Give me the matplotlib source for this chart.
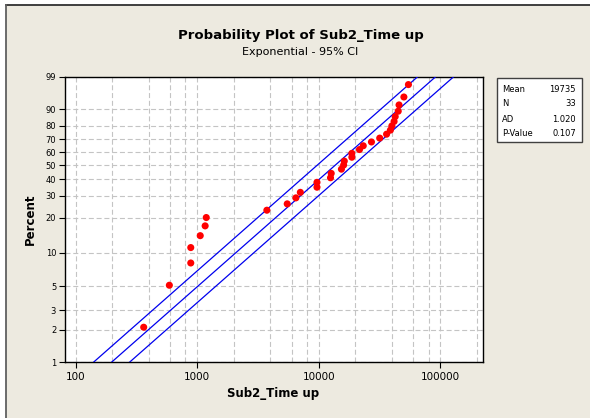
import numpy as np
import matplotlib
matplotlib.use("Agg")
import matplotlib.pyplot as plt
from matplotlib.patches import Rectangle
from matplotlib.lines import Line2D
from matplotlib.ticker import FixedLocator, NullFormatter

# ---- data ----
time_up = [363, 590, 885, 885, 1059, 1162, 1187, 3740, 5500, 6480, 7050,
           9660, 9660, 12480, 12650, 15350, 16000, 16200, 18700, 18700,
           21600, 23200, 27100, 31700, 36100, 38800, 39900, 41600, 42500,
           45000, 45700, 50100, 54600]
percent = [2.1, 5.1, 8.1, 11.1, 14.1, 17.1, 20.1, 23.1, 26.0, 29.0, 32.0,
           35.0, 38.0, 41.0, 44.0, 47.0, 50.0, 53.0, 56.0, 59.0, 62.0, 65.0,
           68.0, 71.0, 74.0, 77.0, 80.0, 83.0, 86.0, 89.0, 92.0, 95.0, 98.0]
MEAN = 19735
N = 33
AD = 1.020
PVALUE = 0.107

y_ticks = [1, 2, 3, 5, 10, 20, 30, 40, 50, 60, 70, 80, 90, 99]
x_ticks = [100, 1000, 10000, 100000]
x_tick_labels = ["100", "1000", "10000", "100000"]

BG = "#EDEAE0"


def fwd(p):
    p = np.clip(np.asarray(p, dtype=float), 1e-6, 100 - 1e-6)
    return np.log10(-np.log(1 - p / 100.0))


def inv(y):
    return 100.0 * (1 - np.exp(-10.0 ** np.asarray(y, dtype=float)))


fig = plt.figure(figsize=(5.9, 4.18), dpi=100, facecolor="white")
fig.patches.append(Rectangle((6 / 590, 0), 1, 1 - 5 / 418, transform=fig.transFigure,
                             facecolor=BG, edgecolor="none", zorder=-10))
fig.add_artist(Line2D([6 / 590, 1], [1 - 4.5 / 418] * 2, color="#303030", lw=1.3))
fig.add_artist(Line2D([6 / 590] * 2, [0, 1 - 4.5 / 418], color="#606060", lw=1.3))

ax = fig.add_axes([64.5 / 590, 1 - 362 / 418, (482.5 - 64.5) / 590, (362 - 77) / 418])
ax.set_facecolor("white")
ax.set_xscale("log")
ax.set_yscale("function", functions=(fwd, inv))
ax.set_xlim(81, 222000)
ax.set_ylim(1, 99)

# fitted exponential line + 95% CI
p_line = inv(np.linspace(fwd(0.5), fwd(99.6), 200))
q = -np.log(1 - p_line / 100.0)
ci = np.exp(1.96 / np.sqrt(N))
for factor in (1 / ci, 1.0, ci):
    ax.plot(MEAN * q * factor, p_line, color="#0000EE", lw=0.9, zorder=3)

ax.scatter(time_up, percent, s=26, color="#FF0000", edgecolors="none", zorder=4)

ax.xaxis.set_major_locator(FixedLocator(x_ticks))
ax.set_xticklabels(x_tick_labels)
minor = [m * 10 ** d for d in range(2, 6) for m in (2, 4, 6, 8)]
ax.xaxis.set_minor_locator(FixedLocator(minor))
ax.xaxis.set_minor_formatter(NullFormatter())
ax.yaxis.set_major_locator(FixedLocator(y_ticks))
ax.set_yticklabels([str(v) for v in y_ticks])
ax.yaxis.set_minor_locator(FixedLocator([]))

ax.tick_params(axis="x", which="major", length=4, width=0.8, labelsize=7.5, pad=3)
ax.tick_params(axis="x", which="minor", length=0)
ax.tick_params(axis="y", which="major", length=4, width=0.8, labelsize=6, pad=2)
ax.grid(True, which="both", color="#C4C4C4", ls=(0, (4.5, 2.5)), lw=0.8)
for sp in ax.spines.values():
    sp.set_color("black")
    sp.set_linewidth(1.0)

ax.set_xlabel("Sub2_Time up", fontsize=8.5, fontweight="bold", labelpad=4)
ax.set_ylabel("Percent", fontsize=8.5, fontweight="bold", labelpad=6)

fig.text(301 / 590, 1 - 35 / 418, "Probability Plot of Sub2_Time up", ha="center",
         va="center", fontsize=9.5, fontweight="bold")
fig.text(300 / 590, 1 - 52 / 418, "Exponential - 95% CI", ha="center", va="center",
         fontsize=8)

# statistics box
fig.patches.append(Rectangle((496.8 / 590, 1 - 142 / 418), 85 / 590, 64.3 / 418,
                             transform=fig.transFigure, facecolor="white",
                             edgecolor="#404040", lw=1.0))
rows = [("Mean", f"{MEAN}"), ("N", f"{N}"), ("AD", f"{AD:.3f}"), ("P-Value", f"{PVALUE:.3f}")]
for (lab, val), yy in zip(rows, [89.3, 103.3, 119, 134]):
    fig.text(502.4 / 590, 1 - yy / 418, lab, ha="left", va="center", fontsize=6)
    fig.text(575.8 / 590, 1 - yy / 418, val, ha="right", va="center", fontsize=6)

fig.savefig("out.png", dpi=100)
